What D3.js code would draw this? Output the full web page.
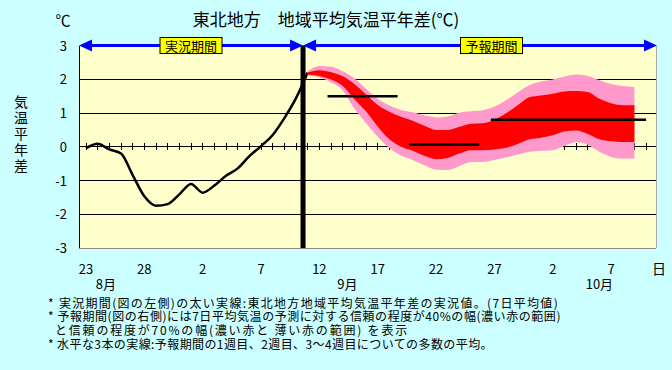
<!DOCTYPE html>
<html><head><meta charset="utf-8">
<script src="https://cdn.jsdelivr.net/npm/d3@7/dist/d3.min.js"></script>
<style>
body{margin:0;background:#ccffff;position:relative;width:672px;height:370px;overflow:hidden;}
svg{display:block;position:absolute;left:0;top:0;}
text{font-family:"Noto Sans CJK JP","Noto Sans",sans-serif;fill:#000;}
#notes{position:absolute;left:0;top:0;font-family:"Noto Sans CJK JP","Noto Sans",sans-serif;font-size:12px;color:#000;}
#notes div{position:absolute;white-space:nowrap;height:13.8px;line-height:13.8px;}
</style>
</head><body>
<svg id="chart" width="672" height="370"></svg>
<div id="notes"></div>
<script>
// ---------- data ----------
const title = "東北地方　地域平均気温平年差(℃)";
const unitLabel = "℃";
const yAxisTitle = "気温平年差";
const yTicks = [-3, -2, -1, 0, 1, 2, 3];
const gridValues = [-2, -1, 1, 2];
// day index 0 = 8/23
const xTickDays = [0, 5, 10, 15, 20, 25, 30, 35, 40, 45];
const xTickLabels = ["23", "28", "2", "7", "12", "17", "22", "27", "2", "7"];
const dayUnit = "日";
const monthDays = [1.7, 22.4, 44.0];
const monthLabels = ["8月", "9月", "10月"];
const minorTickDays = d3.range(0, 49);
const periodBoundary = 18.6;

// observed 7-day mean anomaly (8/23 .. 9/11)
const obsDays   = [0, 1, 2, 3, 4, 5, 6, 7, 8, 9, 10, 11, 12, 13, 14, 15, 16, 17, 18, 19];
const obsValues = [-0.04, 0.09, -0.08, -0.20, -0.84, -1.47, -1.75, -1.70, -1.41, -1.10,
                   -1.36, -1.15, -0.86, -0.64, -0.28, 0.02, 0.35, 0.85, 1.44, 2.20];

// forecast (9/11 .. 10/9)
const fcDays = [19, 20, 21, 22, 23, 24, 25, 26, 27, 28, 29, 30, 31, 32, 33, 34, 35, 36, 37, 38, 39, 40, 41, 42, 43, 44, 45, 46, 47];
const outerUpper = [2.24, 2.39, 2.37, 2.24, 2.03, 1.72, 1.42, 1.22, 1.09, 1.02, 0.93, 0.87, 0.90, 1.01, 1.05,
                    1.08, 1.19, 1.38, 1.61, 1.82, 1.93, 1.99, 2.08, 2.14, 2.10, 1.97, 1.86, 1.80, 1.77];
const innerUpper = [2.20, 2.27, 2.21, 2.09, 1.86, 1.55, 1.24, 1.04, 0.89, 0.77, 0.62, 0.50, 0.50, 0.59, 0.68,
                    0.70, 0.80, 0.99, 1.23, 1.47, 1.52, 1.57, 1.64, 1.65, 1.62, 1.42, 1.29, 1.23, 1.23];
const innerLower = [2.13, 2.10, 1.99, 1.80, 1.41, 1.05, 0.60, 0.22, 0.00, -0.12, -0.27, -0.37, -0.33, -0.20, -0.10,
                    -0.10, -0.08, -0.03, 0.08, 0.22, 0.27, 0.34, 0.45, 0.48, 0.38, 0.22, 0.16, 0.14, 0.14];
const outerLower = [2.11, 2.05, 1.91, 1.67, 1.13, 0.70, 0.30, -0.04, -0.26, -0.39, -0.55, -0.68, -0.69, -0.57, -0.45,
                    -0.45, -0.39, -0.32, -0.23, -0.15, -0.12, -0.10, 0.02, 0.14, 0.06, -0.15, -0.30, -0.35, -0.35];

// weekly ensemble means: start day, end day, value
const weekStart = [20.7, 27.7, 34.7];
const weekEnd   = [26.7, 33.7, 48.0];
const weekMean  = [1.5, 0.07, 0.8];

const periodLabels = ["実況期間", "予報期間"];
const notes = [
  "* 実況期間(図の左側)の太い実線:東北地方地域平均気温平年差の実況値。(7日平均値)",
  "* 予報期間(図の右側)には7日平均気温の予測に対する信頼の程度が40%の幅(濃い赤の範囲)",
  "と信頼の程度が70%の幅(濃い赤と 薄い赤の範囲) を表示",
  "* 水平な3本の実線:予報期間の1週目、2週目、3～4週目についての多数の平均。"
];

// ---------- drawing ----------
const svg = d3.select("#chart");
const L = 79, R = 656, T = 45.5, B = 248;
const x = d3.scaleLinear().domain([-0.6, 48.85]).range([L, R]);
const y = d3.scaleLinear().domain([-3, 3]).range([B, T]);

svg.append("rect").attr("width", 672).attr("height", 370).attr("fill", "#ccffff");
svg.append("rect").attr("x", L).attr("y", T).attr("width", R - L).attr("height", B - T).attr("fill", "#ffffcc");

// gridlines
svg.append("g").selectAll("line").data(gridValues).join("line")
  .attr("x1", L).attr("x2", R).attr("y1", d => y(d)).attr("y2", d => y(d))
  .attr("stroke", "#000").attr("stroke-width", 1).attr("shape-rendering", "crispEdges");

// frame
svg.append("line").attr("x1", L).attr("x2", R).attr("y1", B).attr("y2", B).attr("stroke", "#888").attr("shape-rendering", "crispEdges");
svg.append("line").attr("x1", R).attr("x2", R).attr("y1", T).attr("y2", B).attr("stroke", "#aaa").attr("shape-rendering", "crispEdges");
svg.append("line").attr("x1", L).attr("x2", L).attr("y1", T).attr("y2", B).attr("stroke", "#000").attr("shape-rendering", "crispEdges");

// zero axis with day ticks
svg.append("line").attr("x1", L).attr("x2", R).attr("y1", y(0)).attr("y2", y(0))
  .attr("stroke", "#000").attr("shape-rendering", "crispEdges");
svg.append("g").selectAll("line").data(minorTickDays).join("line")
  .attr("x1", d => x(d)).attr("x2", d => x(d)).attr("y1", y(0) - 3.5).attr("y2", y(0) + 3.5)
  .attr("stroke", "#000").attr("shape-rendering", "crispEdges");

// observed line
const obs = obsDays.map((d, i) => [d, obsValues[i]]);
svg.append("path").datum(obs)
  .attr("d", d3.line().curve(d3.curveMonotoneX).x(d => x(d[0])).y(d => y(d[1])))
  .attr("fill", "none").attr("stroke", "#000").attr("stroke-width", 2.5).attr("stroke-linejoin", "round");

// forecast bands
const fc = fcDays.map((d, i) => ({d, ou: outerUpper[i], iu: innerUpper[i], il: innerLower[i], ol: outerLower[i]}));
svg.append("path").datum(fc)
  .attr("d", d3.area().curve(d3.curveMonotoneX).x(d => x(d.d)).y0(d => y(d.ol)).y1(d => y(d.ou)))
  .attr("fill", "#ff99cc");
svg.append("path").datum(fc)
  .attr("d", d3.area().curve(d3.curveMonotoneX).x(d => x(d.d)).y0(d => y(d.il)).y1(d => y(d.iu)))
  .attr("fill", "#ff0000");

// weekly mean lines
svg.append("g").selectAll("line").data(weekMean).join("line")
  .attr("x1", (d, i) => x(weekStart[i])).attr("x2", (d, i) => x(weekEnd[i]))
  .attr("y1", d => y(d)).attr("y2", d => y(d))
  .attr("stroke", "#000").attr("stroke-width", 2.5);

// boundary line
svg.append("line").attr("x1", x(periodBoundary)).attr("x2", x(periodBoundary))
  .attr("y1", T).attr("y2", B).attr("stroke", "#000").attr("stroke-width", 5);

// period arrows
const arrowY = y(3);
const blue = "#0000ff";
function arrow(x0, x1) {
  const g = svg.append("g");
  g.append("line").attr("x1", x0 + 4).attr("x2", x1 - 4).attr("y1", arrowY).attr("y2", arrowY)
    .attr("stroke", blue).attr("stroke-width", 3);
  g.append("path").attr("d", `M${x0},${arrowY} L${x0 + 13},${arrowY - 6} L${x0 + 13},${arrowY + 6} Z`).attr("fill", blue);
  g.append("path").attr("d", `M${x1},${arrowY} L${x1 - 13},${arrowY - 6} L${x1 - 13},${arrowY + 6} Z`).attr("fill", blue);
}
arrow(L, x(periodBoundary));
arrow(x(periodBoundary), R + 1);

const boxCenters = [(L + x(periodBoundary)) / 2, (x(periodBoundary) + R) / 2 + 12];
periodLabels.forEach((t, i) => {
  const g = svg.append("g");
  g.append("rect").attr("x", boxCenters[i] - 31).attr("y", arrowY - 8).attr("width", 62).attr("height", 16)
    .attr("fill", "#ffff00").attr("stroke", "#000").attr("stroke-width", 1);
  g.append("text").attr("x", boxCenters[i]).attr("y", arrowY + 5).attr("text-anchor", "middle")
    .attr("font-size", 13).text(t);
});

// y tick labels
svg.append("g").selectAll("text").data(yTicks).join("text")
  .attr("x", 67).attr("y", d => y(d) + 5).attr("text-anchor", "end").attr("font-size", 13)
  .attr("fill", "#222")
  .text(d => d < 0 ? "-" + Math.abs(d) : d);

// y axis title (vertical, upright CJK)
svg.append("text").attr("x", 21).attr("y", 95)
  .style("writing-mode", "vertical-rl").style("text-orientation", "upright")
  .attr("font-size", 14).attr("letter-spacing", 2)
  .text(yAxisTitle);

// unit label
svg.append("text").attr("x", 63).attr("y", 26).attr("text-anchor", "middle").attr("font-size", 15).text(unitLabel);

// title
svg.append("text").attr("x", 326).attr("y", 26).attr("text-anchor", "middle").attr("font-size", 17).text(title);

// x tick labels
svg.append("g").selectAll("text").data(xTickDays).join("text")
  .attr("x", d => x(d)).attr("y", 274).attr("text-anchor", "middle").attr("font-size", 13)
  .text((d, i) => xTickLabels[i]);
svg.append("text").attr("x", 659).attr("y", 274).attr("text-anchor", "middle").attr("font-size", 14).text(dayUnit);
svg.append("g").selectAll("text").data(monthDays).join("text")
  .attr("x", d => x(d)).attr("y", 289).attr("text-anchor", "middle").attr("font-size", 13)
  .text((d, i) => monthLabels[i]);

// notes (HTML lines with compact line boxes, stretched to reference widths)
const noteX = [48, 48, 55, 48];
const noteW = [511, 513, 354, 445];
const noteDivs = d3.select("#notes").selectAll("div").data(notes).join("div")
  .style("left", (d, i) => noteX[i] + "px")
  .style("top", (d, i) => (295.5 + i * 13.8) + "px")
  .text(d => d);
noteDivs.each(function(d, i) {
  const w = this.getBoundingClientRect().width;
  const n = [...d].length;
  this.style.letterSpacing = ((noteW[i] - w) / n) + "px";
});
</script>
</body></html>
